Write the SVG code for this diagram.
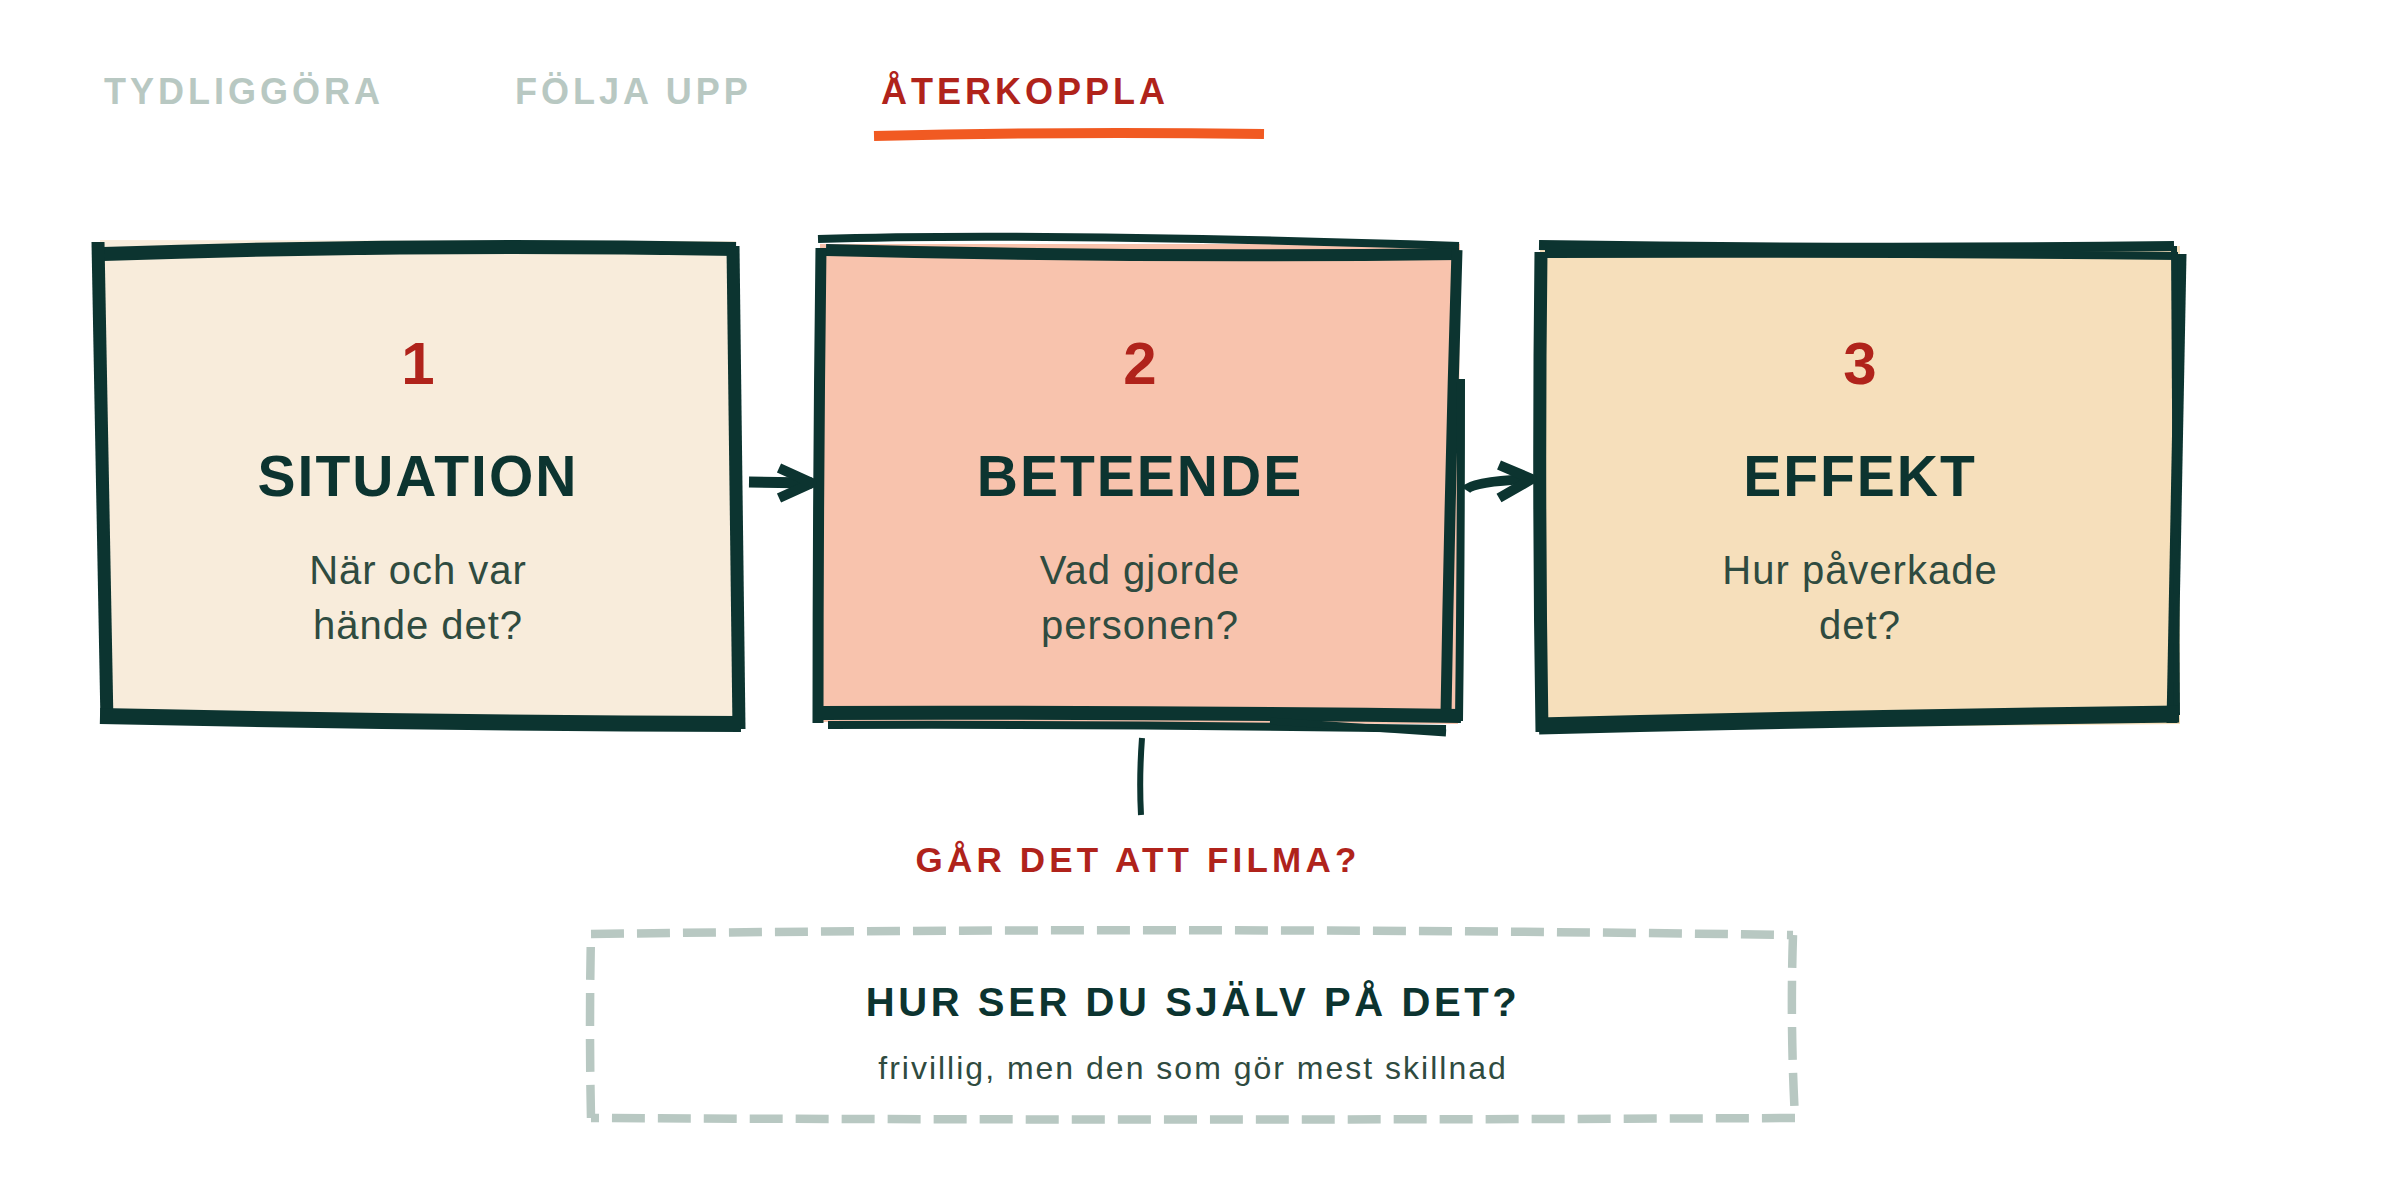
<svg xmlns="http://www.w3.org/2000/svg" width="2384" height="1200" viewBox="0 0 2384 1200">
<style>
.tab{font-family:"Liberation Sans",Arial,sans-serif;font-weight:bold;font-size:36px;letter-spacing:4px}
.num{font-family:"Liberation Sans",Arial,sans-serif;font-weight:bold;font-size:60px;fill:#b0231b;text-anchor:middle}
.title{font-family:"Liberation Sans",Arial,sans-serif;font-weight:bold;font-size:57px;fill:#0c3430;text-anchor:middle;letter-spacing:2px}
.sub{font-family:"Liberation Sans",Arial,sans-serif;font-size:40px;fill:#2f4b40;text-anchor:middle;letter-spacing:1px}
.ink{fill:none;stroke:#0c3430;stroke-linecap:butt;stroke-linejoin:round}
.dash{fill:none;stroke:#b8c8c2;stroke-width:8.5;stroke-dasharray:33 13}
</style>
<rect width="2384" height="1200" fill="#ffffff"/>

<g id="tabs">
<text class="tab" x="104" y="104" fill="#b8c8c2">TYDLIGGÖRA</text>
<text class="tab" x="515" y="104" fill="#b8c8c2">FÖLJA UPP</text>
<text class="tab" x="881" y="104" fill="#b0231b" letter-spacing="3.4">ÅTERKOPPLA</text>
<path d="M874 136 Q1070 131 1264 134" fill="none" stroke="#f15a22" stroke-width="10"/>
</g>

<g id="node-situation">
<path d="M100 240 L736 241 L740 727 L104 724 Z" fill="#f8ecdb"/>
<path class="ink" stroke-width="14" d="M103 254 Q420 243 736 249"/>
<path class="ink" stroke-width="13" d="M98 242 Q103 480 107 724"/>
<path class="ink" stroke-width="13" d="M733 246 Q735 480 739 729"/>
<path class="ink" stroke-width="16" d="M100 716 Q420 723 741 724"/>
<text class="num" x="418" y="384">1</text>
<text class="title" x="418" y="496">SITUATION</text>
<text class="sub" x="418" y="584">När och var</text>
<text class="sub" x="418" y="639">hände det?</text>
</g>

<g id="node-beteende">
<path d="M820 244 L1460 244 L1458 724 L818 722 Z" fill="#f8c3ad"/>
<path class="ink" stroke-width="8" d="M818 239 Q1035 232 1459 246"/>
<path class="ink" stroke-width="12" d="M826 250 Q1137 258 1459 254"/>
<path class="ink" stroke-width="11" d="M821 248 Q818 480 818 723"/>
<path class="ink" stroke-width="11" d="M1457 250 Q1450 480 1446 714"/>
<path class="ink" stroke-width="8" d="M1461 379 Q1461 560 1459 721"/>
<path class="ink" stroke-width="14" d="M816 713 Q1140 712 1461 716"/>
<path class="ink" stroke-width="8" d="M828 725 Q1140 724 1446 729"/>
<path class="ink" stroke-width="7" d="M1270 721 Q1360 727 1446 733"/>
<text class="num" x="1140" y="384">2</text>
<text class="title" x="1140" y="496">BETEENDE</text>
<text class="sub" x="1140" y="584">Vad gjorde</text>
<text class="sub" x="1140" y="639">personen?</text>
</g>

<g id="node-effekt">
<path d="M1540 246 L2180 246 L2180 724 L1542 730 Z" fill="#f6dfbb"/>
<path class="ink" stroke-width="10" d="M1539 245 Q1860 250 2174 246"/>
<path class="ink" stroke-width="8" d="M1545 254 Q1860 253 2178 256"/>
<path class="ink" stroke-width="13" d="M1541 252 Q1538 490 1542 732"/>
<path class="ink" stroke-width="11" d="M2181 254 Q2176 490 2172 723"/>
<path class="ink" stroke-width="6" d="M2174 246 Q2176 480 2177 715"/>
<path class="ink" stroke-width="17" d="M1539 726 Q1860 718 2179 714"/>
<text class="num" x="1860" y="384">3</text>
<text class="title" x="1860" y="496">EFFEKT</text>
<text class="sub" x="1860" y="584">Hur påverkade</text>
<text class="sub" x="1860" y="639">det?</text>
</g>

<g id="node-question">
<text x="1138" y="872" font-family="Liberation Sans,Arial,sans-serif" font-weight="bold" font-size="35" fill="#b0231b" text-anchor="middle" letter-spacing="4.2">GÅR DET ATT FILMA?</text>
</g>

<g id="node-self">
<path class="dash" d="M591 934 Q1190 926 1793 935"/>
<path class="dash" d="M1793 935 Q1790 1025 1795 1118"/>
<path class="dash" d="M1795 1118 Q1190 1121 591 1118"/>
<path class="dash" d="M591 1118 Q589 1025 591 934"/>
<text x="1193" y="1016" font-family="Liberation Sans,Arial,sans-serif" font-weight="bold" font-size="40" fill="#0c3430" text-anchor="middle" letter-spacing="3.6">HUR SER DU SJÄLV PÅ DET?</text>
<text x="1193" y="1079" font-family="Liberation Sans,Arial,sans-serif" font-size="32" fill="#2f4b40" text-anchor="middle" letter-spacing="2">frivillig, men den som gör mest skillnad</text>
</g>

<g id="connectors">
<path class="ink" stroke-width="11" d="M749 482 L812 483"/>
<path class="ink" stroke-width="10" stroke-linejoin="miter" d="M779 468 L812 483 L779 498"/>
<path class="ink" stroke-width="10" d="M1466 490 Q1472 481 1532 479"/>
<path class="ink" stroke-width="10" stroke-linejoin="miter" d="M1499 465 L1532 479 L1499 498"/>
<path class="ink" stroke-width="6" d="M1142 738 Q1139 778 1141 815"/>
</g>
</svg>
